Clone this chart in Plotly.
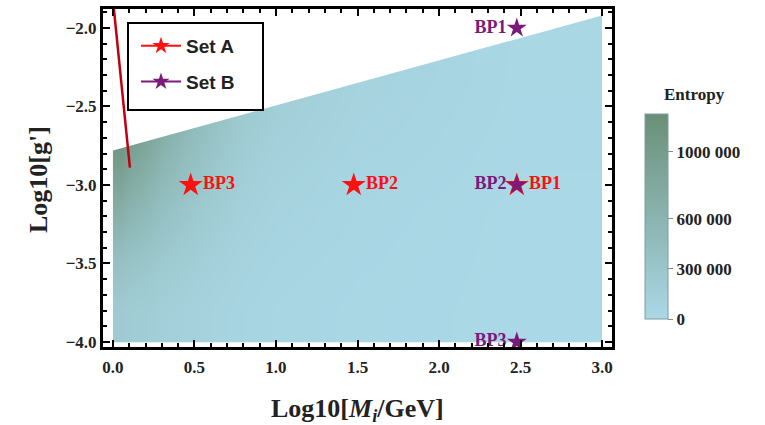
import plotly.graph_objects as go

# ---------------- data ----------------
# Set A benchmark points (Log10[M_i/GeV], Log10[g'])
setA_x = [0.477, 1.477, 2.477]
setA_y = [-3.0, -3.0, -3.0]
setA_labels = ["BP3", "BP2", "BP1"]

# Set B benchmark points
setB_x = [2.477, 2.477, 2.477]
setB_y = [-2.0, -3.0, -4.0]
setB_labels = ["BP1", "BP2", "BP3"]
setB_textpos = ["middle left", "middle left", "middle left"]

# upper boundary of the allowed (shaded) region
boundary_x = [0.0, 3.0]
boundary_y = [-2.78, -1.92]

# red constraint line
redline_x = [0.0, 0.104]
redline_y = [-1.82, -2.89]

# coarse entropy grid (cell edges + estimated values)
ent_x_edges = [0.0, 0.1, 0.3, 0.6, 1.0, 2.0, 3.0]
ent_y_edges = [-4.0, -3.6, -3.3, -3.0, -2.7, -2.4, -1.9]
entropy = [
    [230000, 180000, 120000, 60000, 20000, 0],
    [420000, 330000, 200000, 90000, 30000, 0],
    [700000, 520000, 300000, 130000, 40000, 0],
    [1000000, 750000, 430000, 180000, 60000, 10000],
    [1300000, 1000000, 560000, 240000, 80000, 15000],
    [1600000, 1250000, 700000, 300000, 100000, 20000],
]

cbar_ticks = [0, 300000, 600000, 1000000]
cbar_ticktext = ["0", "300 000", "600 000", "1000 000"]

x_ticks = [0.0, 0.5, 1.0, 1.5, 2.0, 2.5, 3.0]
y_ticks = [-4.0, -3.5, -3.0, -2.5, -2.0]

X_RANGE = [-0.061, 3.061]
Y_RANGE = [-4.032, -1.879]

SERIF = "Liberation Serif"
SANS = "Liberation Sans"
RED = "#ff1010"
PURPLE = "#7a1a7a"
INK = "#222222"

W, H = 765, 425
ML, MR, MT, MB = 103, 153, 9, 78
PW, PH = W - ML - MR, H - MT - MB


def px2paper_x(px):
    return (px - ML) / PW


def px2paper_y(py):
    return 1 - (py - MT) / PH


fig = go.Figure()

fig.add_trace(go.Heatmap(
    x=ent_x_edges, y=ent_y_edges, z=entropy, zsmooth="best",
    zmin=0, zmax=1225000,
    colorscale=[[0, "#aad8e6"], [1, "#6a8f78"]],
    showlegend=False, hoverinfo="skip",
    colorbar=dict(
        x=px2paper_x(645), xanchor="left", xpad=0, ypad=0, thickness=23,
        len=205, lenmode="pixels", y=px2paper_y(216.5), yanchor="middle",
        outlinewidth=1, outlinecolor="#7f9e9e",
        tickvals=cbar_ticks, ticktext=cbar_ticktext,
        ticks="outside", ticklen=5, tickcolor="#888888",
        tickfont=dict(family=SERIF, size=17, color=INK, weight="bold"),
    ),
))

# white mask above the boundary
fig.add_trace(go.Scatter(
    x=boundary_x + boundary_x[::-1],
    y=boundary_y + [Y_RANGE[1], Y_RANGE[1]],
    fill="toself", fillcolor="white", mode="none",
    showlegend=False, hoverinfo="skip",
))

fig.add_trace(go.Scatter(
    x=redline_x, y=redline_y, mode="lines",
    line=dict(color="#c00010", width=2.5), showlegend=False, hoverinfo="skip",
))

fig.add_trace(go.Scatter(
    x=setA_x, y=setA_y, mode="markers+text", text=setA_labels,
    textposition="middle right",
    textfont=dict(family=SERIF, size=18, color=RED, weight="bold"),
    marker=dict(symbol="star", size=18, color=RED),
    showlegend=False, cliponaxis=False,
))
fig.add_trace(go.Scatter(
    x=setB_x, y=setB_y, mode="markers+text", text=setB_labels,
    textposition=setB_textpos,
    textfont=dict(family=SERIF, size=18, color=PURPLE, weight="bold"),
    marker=dict(symbol="star", size=15, color=PURPLE),
    showlegend=False, cliponaxis=False,
))

# legend entries
fig.add_trace(go.Scatter(
    x=[None], y=[None], mode="lines+markers", name="Set A", legendgroup="a",
    line=dict(color=RED, width=2), marker=dict(symbol="star", size=13, color=RED),
))
fig.add_trace(go.Scatter(
    x=[None], y=[None], mode="lines+markers", name="Set B", legendgroup="b",
    line=dict(color=PURPLE, width=2), marker=dict(symbol="star", size=13, color=PURPLE),
))

axis_common = dict(
    showline=True, linecolor="black", linewidth=3, mirror="ticks",
    ticks="inside", ticklen=7, tickwidth=2, tickcolor="black",
    showgrid=False, zeroline=False, automargin=False,
    tickfont=dict(family=SERIF, size=17, color=INK, weight="bold"),
)

fig.update_xaxes(
    range=X_RANGE, tickvals=x_ticks, ticktext=[f"{v:.1f}" for v in x_ticks],
    minor=dict(dtick=0.1, ticks="inside", ticklen=4, tickwidth=1.5, tickcolor="black"),
    ticklabelstandoff=3,
    **axis_common,
)
fig.update_yaxes(
    range=Y_RANGE, tickvals=y_ticks, ticktext=[f"{v:.1f}".replace("-", "\u2212") for v in y_ticks],
    minor=dict(dtick=0.1, ticks="inside", ticklen=4, tickwidth=1.5, tickcolor="black"),
    **axis_common,
)

# axis titles
fig.add_annotation(
    text="<b>Log10[<i>M<sub>i</sub></i>/GeV]</b>", xref="paper", yref="paper",
    x=px2paper_x(357), y=px2paper_y(410), xanchor="center", yanchor="middle",
    showarrow=False, font=dict(family=SERIF, size=26, color=INK),
)
fig.add_annotation(
    text="<b>Log10[g']</b>", xref="paper", yref="paper", textangle=-90,
    x=px2paper_x(38), y=px2paper_y(180), xanchor="center", yanchor="middle",
    showarrow=False, font=dict(family=SERIF, size=26, color=INK),
)

fig.add_annotation(
    text="<b>Entropy</b>", xref="paper", yref="paper",
    x=px2paper_x(694), y=px2paper_y(94), xanchor="center", yanchor="middle",
    showarrow=False, font=dict(family=SERIF, size=17, color=INK),
)

# legend frame
fig.add_shape(
    type="rect", xref="paper", yref="paper",
    x0=px2paper_x(128), x1=px2paper_x(263), y0=px2paper_y(110), y1=px2paper_y(23),
    line=dict(color="black", width=2), fillcolor="white", layer="above",
)

fig.update_layout(
    width=W, height=H,
    margin=dict(l=ML, r=MR, t=MT, b=MB, autoexpand=False),
    plot_bgcolor="white", paper_bgcolor="white",
    legend=dict(
        x=px2paper_x(136), y=px2paper_y(27), xanchor="left", yanchor="top",
        bgcolor="rgba(0,0,0,0)", borderwidth=0,
        font=dict(family=SANS, size=19, color=INK, weight="bold"),
        tracegroupgap=8, itemwidth=40,
    ),
)

fig.write_html("out.html")
